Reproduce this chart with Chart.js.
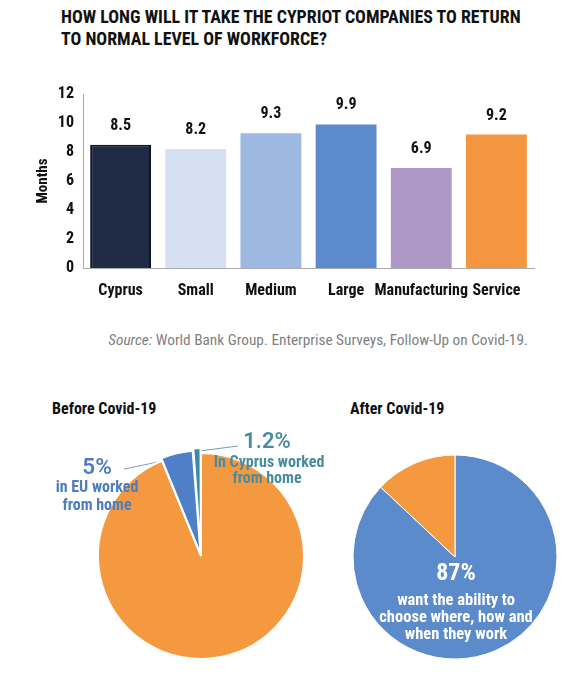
<!DOCTYPE html>
<html>
<head>
<meta charset="utf-8">
<script src="https://cdn.jsdelivr.net/npm/chart.js@4"></script>
<style>
  body{margin:0;background:#fff;width:574px;height:689px;position:relative;overflow:hidden;
       font-family:'Roboto Condensed',Roboto,sans-serif;color:#111;}
  .abs{position:absolute;}
  #title{left:61px;top:6px;font-weight:bold;font-size:17.9px;line-height:22px;white-space:nowrap;}
  #source{right:46px;top:331px;font-size:15.3px;color:#7f7f7f;white-space:nowrap;}
  .pieTitle{top:399px;font-weight:bold;font-size:16px;white-space:nowrap;}
  canvas{position:absolute;}
</style>
</head>
<body>
<div id="title" class="abs">HOW LONG WILL IT TAKE THE CYPRIOT COMPANIES TO RETURN<br>TO NORMAL LEVEL OF WORKFORCE?</div>
<canvas id="barChart" style="left:0;top:70px" width="574" height="240"></canvas>
<div id="source" class="abs"><i>Source:</i> World Bank Group. Enterprise Surveys, Follow-Up on Covid-19.</div>
<div class="abs pieTitle" style="left:52px">Before Covid-19</div>
<div class="abs pieTitle" style="left:350px">After Covid-19</div>
<canvas id="beforePie" style="left:31px;top:426px" width="340" height="260"></canvas>
<canvas id="afterPie" style="left:335px;top:437px" width="240" height="240"></canvas>
<script>
// bar chart data
const categories=['Cyprus','Small','Medium','Large','Manufacturing','Service'];
const months=[8.5,8.2,9.3,9.9,6.9,9.2];
const yMin=0, yMax=12, yStep=2;

// pie data
const beforeLabels=['Did not work from home','In EU worked from home','In Cyprus worked from home'];
const beforeValues=[93.8,5,1.2];
const afterLabels=['Want the ability to choose where, how and when they work','Other'];
const afterValues=[87,13];

const FONT="'Roboto Condensed',Roboto,sans-serif";
Chart.defaults.font.family=FONT;
Chart.defaults.color='#111';
Chart.defaults.animation=false;
Chart.defaults.plugins.legend.display=false;
Chart.defaults.plugins.tooltip.enabled=false;

// draws the value on top of every bar
const valueLabels={
    id:'valueLabels',
    afterDatasetsDraw(chart){
        const ctx=chart.ctx;
        const meta=chart.getDatasetMeta(0);
        ctx.save();
        ctx.font='bold 16px '+FONT;
        ctx.fillStyle='#111';
        ctx.textAlign='center';
        ctx.textBaseline='middle';
        meta.data.forEach((bar,i)=>{
            ctx.fillText(months[i].toFixed(1),bar.x,bar.y-19);
        });
        ctx.restore();
    }
};

new Chart(document.getElementById('barChart'),{
    type:'bar',
    data:{
        labels:categories,
        datasets:[{
            data:months,
            backgroundColor:['#1f2a44','#d5e1f3','#9db8e1','#5b8bcc','#ae99c6','#f4963f'],
            borderColor:['#0f1629','#d5e1f3','#9db8e1','#5b8bcc','#ae99c6','#f4963f'],
            borderWidth:[2,0,0,0,0,0],
            barPercentage:0.81,
            categoryPercentage:1
        }]
    },
    options:{
        responsive:false,
        layout:{padding:{left:20,right:40,top:24,bottom:0}},
        scales:{
            x:{
                grid:{display:false,drawTicks:false},
                border:{display:true,color:'#a9a9a9',width:1},
                ticks:{font:{size:16,weight:'bold'},padding:13,color:'#111',maxRotation:0,minRotation:0,autoSkip:false},
                afterFit(scale){scale.height=42;}
            },
            y:{
                min:yMin,max:yMax,
                grid:{display:false,drawTicks:false},
                border:{display:true,color:'#a9a9a9',width:1},
                ticks:{stepSize:yStep,font:{size:16,weight:'bold'},padding:9,color:'#111'},
                title:{display:true,text:'Months',font:{size:15,weight:'bold'},padding:{top:14,bottom:0},color:'#111'},
                afterFit(scale){scale.width=63;}
            }
        }
    },
    plugins:[valueLabels]
});

// point of an arc element (with its offset applied) at a given angle and radius
function arcPoint(arc,angle,r){
    const mid=(arc.startAngle+arc.endAngle)/2;
    const off=arc.options.offset||0;
    return {
        x:arc.x+Math.cos(mid)*off+Math.cos(angle)*r,
        y:arc.y+Math.sin(mid)*off+Math.sin(angle)*r
    };
}

// callouts for the before pie
const beforeCallouts={
    id:'beforeCallouts',
    beforeDatasetsDraw(chart){
        const ctx=chart.ctx;
        const meta=chart.getDatasetMeta(0);
        const eu=meta.data[1], cy=meta.data[2];
        ctx.save();
        ctx.lineWidth=1;
        ctx.strokeStyle='#7b9cc6';
        let p=arcPoint(eu,(eu.startAngle+eu.endAngle)/2,eu.outerRadius*0.92);
        ctx.beginPath();ctx.moveTo(p.x,p.y);ctx.lineTo(eu.x-77,eu.y-87);ctx.stroke();
        ctx.strokeStyle='#6d9fb0';
        p=arcPoint(cy,(cy.startAngle+cy.endAngle)/2,cy.outerRadius*0.92);
        ctx.beginPath();ctx.moveTo(p.x,p.y);ctx.lineTo(cy.x+37,cy.y-110);ctx.stroke();
        ctx.restore();
    },
    afterDraw(chart){
        const ctx=chart.ctx;
        const c=chart.getDatasetMeta(0).data[0];
        ctx.save();
        ctx.textAlign='center';
        ctx.textBaseline='middle';
        ctx.fillStyle='#4d7dbf';
        ctx.font="600 22.5px Roboto,sans-serif";
        ctx.fillText(beforeValues[1]+'%',c.x-104,c.y-88);
        ctx.font='bold 16px '+FONT;
        ctx.fillText('in EU worked',c.x-104,c.y-68);
        ctx.fillText('from home',c.x-104,c.y-50);
        ctx.fillStyle='#4a8c9f';
        ctx.font="600 22px Roboto,sans-serif";
        ctx.fillText(beforeValues[2]+'%',c.x+66,c.y-114);
        ctx.font='bold 16px '+FONT;
        ctx.fillText('In Cyprus worked',c.x+68,c.y-93);
        ctx.fillText('from home',c.x+66,c.y-77);
        ctx.restore();
    }
};

new Chart(document.getElementById('beforePie'),{
    type:'pie',
    data:{
        labels:beforeLabels,
        datasets:[{
            data:beforeValues,
            backgroundColor:['#f4993f','#4f80c7','#3b8ba2'],
            borderColor:'#fff',
            borderWidth:2,
            offset:[0,6,10]
        }]
    },
    options:{responsive:false,radius:103,layout:{padding:0}},
    plugins:[beforeCallouts]
});

// text inside the after pie
const afterText={
    id:'afterText',
    afterDraw(chart){
        const ctx=chart.ctx;
        const c=chart.getDatasetMeta(0).data[0];
        ctx.save();
        ctx.textAlign='center';
        ctx.textBaseline='middle';
        ctx.fillStyle='#fff';
        ctx.font='bold 24px '+FONT;
        ctx.fillText(afterValues[0]+'%',c.x+1,c.y+17);
        ctx.font='bold 16.5px '+FONT;
        ctx.fillText('want the ability to',c.x+1,c.y+44);
        ctx.fillText('choose where, how and',c.x+1,c.y+61);
        ctx.fillText('when they work',c.x+1,c.y+78);
        ctx.restore();
    }
};

new Chart(document.getElementById('afterPie'),{
    type:'pie',
    data:{
        labels:afterLabels,
        datasets:[{
            data:afterValues,
            backgroundColor:['#5b8bcb','#f4993f'],
            borderColor:'#fff',
            borderWidth:1
        }]
    },
    options:{responsive:false,radius:102,layout:{padding:0}},
    plugins:[afterText]
});
</script>
</body>
</html>
